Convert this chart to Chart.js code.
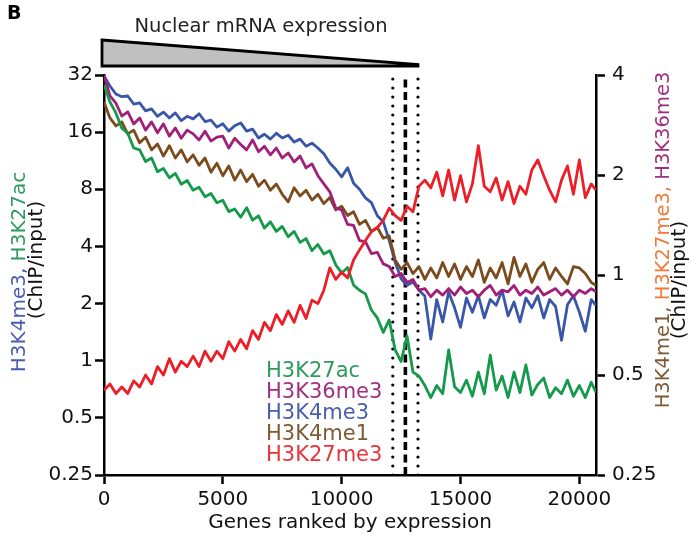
<!DOCTYPE html>
<html><head><meta charset="utf-8">
<script src="https://cdn.jsdelivr.net/npm/chart.js@4.4.0/dist/chart.umd.min.js"></script>
<style>html,body{margin:0;padding:0;background:#fff;} #wrap{width:697px;height:538px;position:relative;}</style>
</head><body><div id="wrap"><canvas id="c" width="697" height="538"></canvas></div>
<script>
// Gene rank (x)
const ranks = [0,250,500,750,1000,1250,1500,1750,2000,2250,2500,2750,3000,3250,3500,3750,4000,4250,4500,4750,
5000,5250,5500,5750,6000,6250,6500,6750,7000,7250,7500,7750,8000,8250,8500,8750,9000,9250,9500,9750,
10000,10250,10500,10750,11000,11250,11500,11750,12000,12250,12500,12750,13000,13250,13500,13750,14000,14250,14500,14750,
15000,15250,15500,15750,16000,16250,16500,16750,17000,17250,17500,17750,18000,18250,18500,18750,19000,19250,19500,19750,
20000,20250,20500,20700];

// Left axis series (ChIP/input)
const h3k4me3 = [31.6,28.0,25.4,24.6,24.8,22.5,22.8,20.7,21.2,19.4,
20.4,19.0,20.2,18.4,19.4,18.8,20.0,18.2,18.5,17.0,
17.7,16.2,17.3,17.9,16.2,16.6,14.9,15.6,14.7,15.8,
14.9,15.4,14.2,14.7,13.5,14.0,13.2,12.3,11.0,10.2,
9.3,10.4,8.6,8.0,7.2,6.8,5.8,5.4,4.3,3.3,
2.7,2.5,2.6,2.35,2.19,1.3,2.1,1.6,2.3,1.9,
1.5,2.14,1.8,2.2,1.68,2.1,1.96,2.35,1.72,2.04,
1.6,2.14,1.9,2.2,1.68,2.1,1.93,1.28,1.97,2.2,
1.8,1.43,2.1,1.96];
const h3k27ac = [28.4,23.1,20.2,16.8,15.8,13.2,12.9,11.2,11.7,9.9,
10.3,9.2,9.7,8.5,8.9,7.9,8.2,7.3,7.6,6.8,
7.0,6.1,6.3,5.7,6.4,5.5,5.8,5.0,5.4,4.8,
5.1,4.5,4.8,4.2,4.4,3.8,4.1,3.65,3.8,3.2,
2.9,3.1,2.5,2.35,2.25,1.85,1.68,1.41,1.64,1.14,
0.99,1.35,0.87,0.83,0.74,0.64,0.74,0.67,1.14,0.73,
0.68,0.79,0.65,0.87,0.67,1.07,0.70,0.83,0.64,0.87,
0.68,0.95,0.66,0.75,0.81,0.64,0.72,0.67,0.79,0.65,
0.74,0.64,0.77,0.68];

// Right axis series (ChIP/input)
const h3k36me3 = [4.0,3.46,3.29,3.01,3.10,2.85,2.97,2.73,2.89,2.68,
2.85,2.62,2.77,2.58,2.73,2.66,2.55,2.71,2.53,2.60,
2.62,2.41,2.58,2.47,2.38,2.55,2.35,2.44,2.30,2.41,
2.25,2.33,2.19,2.28,2.10,2.16,1.99,1.88,1.78,1.59,
1.57,1.42,1.41,1.27,1.26,1.16,1.17,1.08,1.06,0.99,
1.01,0.95,0.97,0.90,0.91,0.86,0.90,0.87,0.91,0.87,
0.92,0.88,0.90,0.86,0.90,0.93,0.87,0.90,0.89,0.93,
0.87,0.90,0.88,0.92,0.87,0.89,0.91,0.87,0.90,0.86,
0.90,0.88,0.91,0.89];
const h3k4me1 = [3.32,2.97,2.81,2.89,2.66,2.73,2.50,2.60,2.38,2.48,
2.28,2.45,2.25,2.38,2.19,2.30,2.14,2.25,2.04,2.17,
1.99,2.13,1.93,2.07,1.91,2.01,1.85,1.93,1.80,1.88,
1.75,1.66,1.83,1.73,1.80,1.68,1.75,1.64,1.71,1.57,
1.61,1.51,1.55,1.42,1.46,1.35,1.39,1.29,1.31,1.11,
1.04,1.09,1.01,1.06,0.97,1.05,0.98,1.09,0.99,1.08,
0.97,1.06,0.99,1.11,0.95,1.05,0.98,1.09,0.94,1.13,
0.99,1.08,0.95,1.04,1.09,0.97,1.05,0.99,0.94,1.06,
1.05,1.01,0.95,0.93];
const h3k27me3 = [0.45,0.47,0.44,0.46,0.44,0.48,0.46,0.50,0.47,0.53,
0.50,0.56,0.51,0.55,0.53,0.57,0.53,0.59,0.55,0.59,
0.56,0.63,0.59,0.64,0.60,0.68,0.64,0.72,0.68,0.76,
0.71,0.78,0.72,0.81,0.74,0.84,0.82,0.90,1.05,0.97,
1.02,0.98,1.11,1.19,1.27,1.35,1.39,1.46,1.59,1.51,
1.46,1.61,1.55,1.85,1.93,1.83,2.04,1.73,2.07,1.68,
1.99,1.66,1.88,2.45,1.85,1.78,1.96,1.68,1.91,1.64,
1.85,1.75,2.07,2.22,1.99,1.80,1.66,1.93,2.13,1.75,
2.22,1.71,1.88,1.80];

const leftTicks = [0.25,0.5,1,2,4,8,16,32];
const rightTicks = [0.25,0.5,1,2,4];
const xTicks = [0,5000,10000,15000,20000];
const dottedRanks = [12150,13210];
const dashedRank = 12680;
const legendNames = ['H3K27ac','H3K36me3','H3K4me3','H3K4me1','H3K27me3'];

const FONT = "'DejaVu Sans', sans-serif";
const C = {green:'#15994b', purple:'#a21f79', blue:'#3a56a8', brown:'#7b4b1d', red:'#ec1f28'};
const TXT = {green:'#2e9a5e', purple:'#a0307f', blue:'#4a5eae', brown:'#7e5a33', red:'#e8333c', orange:'#f07a3a'};

const pts = (vals) => ranks.map((r,i)=>({x:r,y:vals[i]}));
const lineDS = (label, vals, color, axis) => ({label, data:pts(vals), yAxisID:axis, borderColor:color,
  borderWidth:2.8, pointRadius:0, tension:0, fill:false, borderJoinStyle:'round'});

const datasets = [
  lineDS('H3K27me3', h3k27me3, C.red, 'y1'),
  lineDS('H3K27ac', h3k27ac, C.green, 'y'),
  lineDS('H3K36me3', h3k36me3, C.purple, 'y1'),
  lineDS('H3K4me1', h3k4me1, C.brown, 'y1'),
  lineDS('H3K4me3', h3k4me3, C.blue, 'y'),
];
dottedRanks.forEach(r => datasets.push({label:'b'+r, data:[{x:r,y:0.25},{x:r,y:32}], yAxisID:'y',
  borderColor:'#000', borderWidth:3.2, borderDash:[0,9], borderCapStyle:'round', pointRadius:0, fill:false}));
datasets.push({label:'mid', data:[{x:dashedRank,y:0.25},{x:dashedRank,y:32}], yAxisID:'y',
  borderColor:'#000', borderWidth:3.6, borderDash:[8,4.5], borderCapStyle:'butt', pointRadius:0, fill:false});

const tickFont = {family:FONT, size:20};
const gridOpt = {drawOnChartArea:false, drawTicks:true, tickLength:9, tickWidth:2.5, tickColor:'#000'};
const borderOpt = {display:true, color:'#000', width:2.5};

function drawRotated(ctx, parts, cx, cy, size){
  ctx.save();
  ctx.translate(cx, cy);
  ctx.rotate(-Math.PI/2);
  ctx.font = size + "px " + FONT;
  ctx.textBaseline = 'middle';
  ctx.textAlign = 'left';
  let total = 0;
  parts.forEach(p => total += ctx.measureText(p[0]).width);
  let x = -total/2;
  parts.forEach(p => { ctx.fillStyle = p[1]; ctx.fillText(p[0], x, 0); x += ctx.measureText(p[0]).width; });
  ctx.restore();
}

const annot = {
  id:'annot',
  afterDraw(chart){
    const ctx = chart.ctx, xs = chart.scales.x, ca = chart.chartArea;
    ctx.save();
    // panel letter
    ctx.fillStyle = '#000';
    ctx.font = "bold 19px " + FONT;
    ctx.textAlign = 'left'; ctx.textBaseline = 'alphabetic';
    ctx.fillText('B', 7, 19);
    // expression wedge
    const x0 = xs.getPixelForValue(0) - 2, x1 = xs.getPixelForValue(dottedRanks[1]);
    const yT = ca.top - 35, yB = ca.top - 9;
    ctx.beginPath();
    ctx.moveTo(x0, yT); ctx.lineTo(x1, yB - 1.5); ctx.lineTo(x1, yB); ctx.lineTo(x0, yB); ctx.closePath();
    ctx.fillStyle = '#c0c0c0'; ctx.fill();
    ctx.lineWidth = 2.8; ctx.strokeStyle = '#000'; ctx.lineJoin = 'miter'; ctx.stroke();
    ctx.fillStyle = '#222';
    ctx.font = "19.5px " + FONT; ctx.textAlign = 'center'; ctx.textBaseline = 'alphabetic';
    ctx.fillText('Nuclear mRNA expression', 261, 32);
    // in-plot labels
    ctx.font = "21px " + FONT; ctx.textAlign = 'left'; ctx.textBaseline = 'middle';
    const lc = [TXT.green, TXT.purple, TXT.blue, TXT.brown, TXT.red];
    const ly = [372, 393, 414, 435, 456];
    legendNames.forEach((n,i) => { ctx.fillStyle = lc[i]; ctx.fillText(n, 266, ly[i]); });
    ctx.restore();
    // axis titles
    drawRotated(ctx, [['H3K4me3, ', TXT.blue], ['H3K27ac', TXT.green]], 20, 272, 20);
    drawRotated(ctx, [['(ChIP/input)', '#111']], 37, 260, 20);
    drawRotated(ctx, [['H3K4me1, ', TXT.brown], ['H3K27me3, ', TXT.orange], ['H3K36me3', TXT.purple]], 664, 240, 19.5);
    drawRotated(ctx, [['(ChIP/input)', '#111']], 680, 280, 20);
  }
};

new Chart(document.getElementById('c'), {
  type:'line',
  data:{datasets},
  options:{
    responsive:false, animation:false, devicePixelRatio:1,
    layout:{padding:{top:75, left:0, right:0, bottom:0}},
    plugins:{legend:{display:false}, tooltip:{enabled:false}},
    scales:{
      x:{type:'linear', position:'bottom', min:0, max:20700,
        afterBuildTicks:s=>{ s.ticks = xTicks.map(v=>({value:v})); },
        afterFit:s=>{ s.height = 63; },
        ticks:{font:tickFont, color:'#111', padding:4, maxRotation:0, autoSkip:false, callback:v=>String(v)},
        grid:gridOpt, border:borderOpt,
        title:{display:true, text:'Genes ranked by expression', font:{family:FONT,size:20}, color:'#111', padding:{top:0,bottom:3}}
      },
      y:{type:'logarithmic', position:'left', min:0.25, max:32,
        afterBuildTicks:s=>{ s.ticks = leftTicks.map(v=>({value:v})); },
        afterFit:s=>{ s.width = 104; },
        ticks:{font:tickFont, color:'#111', padding:2, autoSkip:false, callback:v=>String(v)},
        grid:gridOpt, border:borderOpt
      },
      y1:{type:'logarithmic', position:'right', min:0.25, max:4,
        afterBuildTicks:s=>{ s.ticks = rightTicks.map(v=>({value:v})); },
        afterFit:s=>{ s.width = 101; },
        ticks:{font:tickFont, color:'#111', padding:7, autoSkip:false, callback:v=>String(v)},
        grid:gridOpt, border:borderOpt
      }
    }
  },
  plugins:[annot]
});
</script></body></html>
